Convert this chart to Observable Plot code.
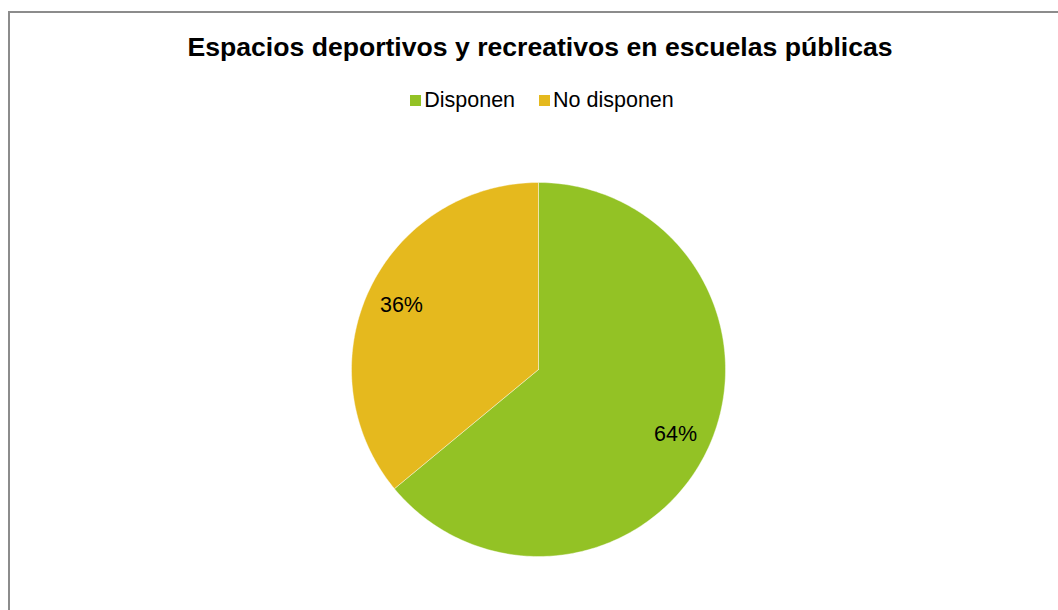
<!DOCTYPE html>
<html>
<head>
<meta charset="utf-8">
<script src="https://cdn.jsdelivr.net/npm/d3@7"></script>
<script src="https://cdn.jsdelivr.net/npm/@observablehq/plot@0.6"></script>
<style>
  html, body { margin: 0; padding: 0; background: #fff; }
  #page { position: relative; width: 1058px; height: 610px; overflow: hidden; font-family: Arial, "Liberation Sans", sans-serif; }
  #frame { position: absolute; left: 8px; top: 11px; width: 1100px; height: 700px; border-left: 2px solid #8c8c8c; border-top: 2px solid #8c8c8c; box-sizing: border-box; }
  #title { position: absolute; left: 0; width: 1080px; top: 32px; text-align: center; font-weight: bold; font-size: 26.6px; color: #000; white-space: nowrap; }
  #legend { position: absolute; left: 0; width: 1084px; top: 88px; text-align: center; font-size: 21.5px; color: #000; white-space: nowrap; }
  .item { display: inline-block; margin: 0 12px; }
  .sw { display: inline-block; width: 11px; height: 11px; margin-right: 3px; vertical-align: 1px; }
  #chart { position: absolute; left: 0; top: 0; }
</style>
</head>
<body>
<div id="page">
  <div id="frame"></div>
  <div id="chart"></div>
  <div id="title"></div>
  <div id="legend"></div>
</div>
<script>
const titleText = "Espacios deportivos y recreativos en escuelas públicas";
const categories = ["Disponen", "No disponen"];
const values = [64, 36];
const colors = ["#93C225", "#E5B91E"];

document.getElementById("title").textContent = titleText;
const legend = document.getElementById("legend");
categories.forEach((c, i) => {
  const item = document.createElement("span");
  item.className = "item";
  const sw = document.createElement("span");
  sw.className = "sw";
  sw.style.background = colors[i];
  item.appendChild(sw);
  item.appendChild(document.createTextNode(c));
  legend.appendChild(item);
});

const data = categories.map((c, i) => ({category: c, value: values[i]}));
const arcs = d3.pie().sort(null).value(d => d.value)(data);

// slice outlines in unit-circle coordinates derived from the data angles
const points = [];
arcs.forEach(a => {
  const cat = a.data.category;
  points.push({category: cat, x: 0, y: 0});
  const n = Math.max(2, Math.ceil((a.endAngle - a.startAngle) / (Math.PI / 180)));
  for (let k = 0; k <= n; k++) {
    const t = a.startAngle + (a.endAngle - a.startAngle) * k / n;
    points.push({category: cat, x: Math.sin(t), y: Math.cos(t)});
  }
  points.push({category: cat, x: 0, y: 0});
});

const labels = arcs.map(a => {
  const m = (a.startAngle + a.endAngle) / 2;
  return {label: a.data.value + "%", x: 0.81 * Math.sin(m), y: 0.81 * Math.cos(m)};
});

const chart = Plot.plot({
  width: 1058,
  height: 610,
  margin: 0,
  style: {background: "transparent", fontFamily: "Arial, 'Liberation Sans', sans-serif"},
  x: {domain: [-1, 1], range: [351, 725], axis: null},
  y: {domain: [-1, 1], range: [556, 182], axis: null},
  color: {domain: categories, range: colors},
  marks: [
    Plot.line(points, {x: "x", y: "y", z: "category", fill: "category", stroke: "#ffffff", strokeWidth: 0.7, strokeOpacity: 0.6, curve: "linear"}),
    Plot.text(labels, {x: "x", y: "y", text: "label", fontSize: 21.5, fill: "#000"})
  ]
});
document.getElementById("chart").appendChild(chart);
</script>
</body>
</html>
